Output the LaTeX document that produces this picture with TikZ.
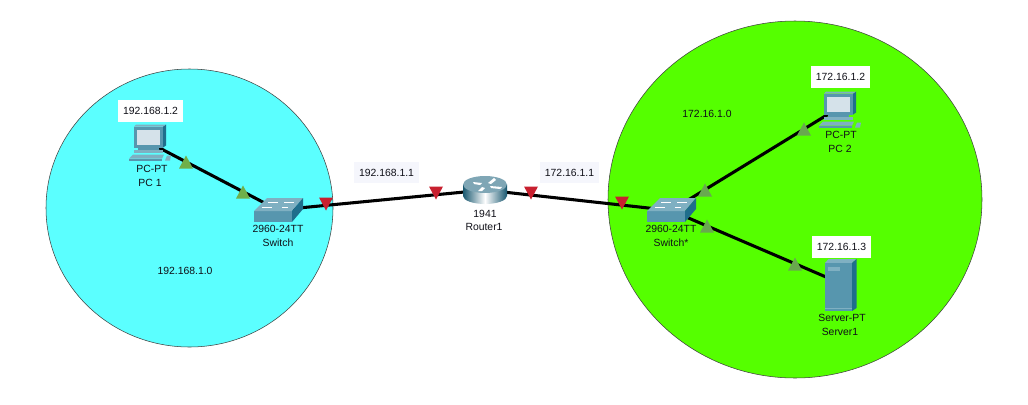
\documentclass[tikz,border=0pt]{standalone}
\usepackage{fontspec}
\setmainfont{Liberation Sans}
\definecolor{cyanzone}{HTML}{5BFFFF}
\definecolor{greenzone}{HTML}{55FF00}
\definecolor{linkred}{HTML}{C8202F}
\definecolor{linkgreen}{HTML}{6FB04A}
\definecolor{linkolive}{HTML}{69A84F}
\definecolor{tealfront}{HTML}{5796AE}
\definecolor{tealtop}{HTML}{7FB0C2}
\definecolor{tealside}{HTML}{1F6E8C}
\definecolor{screen}{HTML}{D5E2EA}
\definecolor{labelbg}{HTML}{F5F6FC}
\definecolor{txt}{HTML}{101018}
\tikzset{
  x=0.75pt,y=-0.75pt,
  zone/.style={draw=black!75,line width=0.4pt},
  link/.style={draw=black,line width=2.3pt},
  lbl/.style={font=\fontsize{7.8}{9}\selectfont,text=txt,inner sep=0pt,align=center},
  ipbox/.style={lbl,fill=white,minimum width=48.75pt,minimum height=16.5pt},
  ipboxs/.style={ipbox,minimum width=44.25pt},
  ipsoft/.style={lbl,fill=labelbg,minimum width=48.75pt,minimum height=15.7pt},
  ipsofts/.style={ipsoft,minimum width=44.25pt},
  dev/.style={inner sep=0pt,minimum size=0pt},
  pics/updown/.style n args={2}{code={
    \fill[#1] (-7,#2*6.5) -- (7,#2*6.5) -- (0,-#2*6.5) -- cycle;}},
  pics/pcicon/.style={code={
    % monitor (origin at the monitor centre)
    \fill[tealside] (13,-10) -- (16,-12) -- (16,9) -- (13,11) -- cycle;
    \fill[tealtop] (-16,-10) -- (-14,-12) -- (16,-12) -- (13,-10) -- cycle;
    \fill[tealfront] (-16,-10) rectangle (13,11);
    \fill[screen] (-13,-7) rectangle (10,8);
    % stand
    \fill[tealfront] (-12,11) rectangle (9,13);
    \fill[tealtop] (-16,13) rectangle (13,16);
    % keyboard and mouse
    \fill[tealtop] (-21,22) -- (-17,18) -- (14,18) -- (12,22) -- cycle;
    \fill[tealfront] (-21,22) rectangle (12,24);
    \fill[tealtop] (15,24) -- (17,19) -- (21,19) -- (20,24) -- cycle;
  }},
  pics/switchicon/.style={code={
    \fill[tealfront] (-24,1) rectangle (14,12);
    \fill[tealtop] (-24,1) -- (-11,-12) -- (25,-12) -- (14,1) -- cycle;
    \fill[tealside] (14,1) -- (25,-12) -- (25,-1) -- (14,12) -- cycle;
    \draw[white,line width=0.7pt] (-10,-8) -- (0,-8) (6,-8) -- (16,-8)
      (-16,-3) -- (-6,-3) (4,-3) -- (10,-3);
  }},
  pics/routericon/.style={code={
    \shade[left color=tealside!80!black,right color=tealside!80!black,middle color=white]
      (-22,-5.5) -- (-22,6) arc[start angle=180,end angle=0,x radius=22,y radius=8] -- (22,-5.5) -- cycle;
    \fill[tealtop!80!gray] (0,-5.5) ellipse[x radius=22,y radius=8.5];
    \fill[white] (-12,-8) -- (-3,-7) -- (-5,-5) -- (-11,-6) -- cycle
      (3,-7) -- (9,-12) -- (11,-10) -- (6,-6) -- cycle
      (5,-4) -- (17,-3) -- (15,-1) -- (6,-2) -- cycle
      (-3,-3) -- (-7,1) -- (-3,1) -- (0,-2) -- cycle;
  }},
  pics/servericon/.style={code={
    \fill[tealtop] (-13.5,-24) -- (-10,-28) -- (18,-28) -- (13.5,-24) -- cycle;
    \fill[tealside] (13.5,-24) -- (18,-28) -- (18,21) -- (13.5,24) -- cycle;
    \fill[tealfront] (-13.5,-24) rectangle (13.5,24);
    \fill[tealtop] (-11,-20) rectangle (1,-16);
    \fill[tealtop] (-13.5,21) rectangle (13.5,22);
  }},
}
\begin{document}
\begin{tikzpicture}
\useasboundingbox (0,0) rectangle (1028,404);
\fill[white] (0,0) rectangle (1028,404);
% zones
\draw[zone,fill=cyanzone] (189.5,208) ellipse[x radius=143.5,y radius=139];
\draw[zone,fill=greenzone] (795,199.5) ellipse[x radius=187,y radius=178.5];
% anchors of devices
\node[dev] (pc1) at (150,143) {};
\node[dev] (sw1) at (278,210) {};
\node[dev] (r1) at (485,190) {};
\node[dev] (sw2) at (671,210.5) {};
\node[dev] (pc2) at (840,107) {};
\node[dev] (srv) at (840,283) {};
% connectors
\draw[link] (pc1) -- (sw1);
\draw[link] (sw1) -- (r1);
\draw[link] (r1) -- (sw2);
\draw[link] (sw2) -- (pc2);
\draw[link] (sw2) -- (srv);
% icons
\pic at (150,136.5) {pcicon};
\pic at (840,103.5) {pcicon};
\pic at (sw1) {switchicon};
\pic at (671,210) {switchicon};
\pic at (r1) {routericon};
\pic at (838.5,287) {servericon};
% link-state triangles
\pic at (186,162) {updown={linkgreen}{1}};
\pic at (243,192) {updown={linkgreen}{1}};
\pic at (326,204) {updown={linkred}{-1}};
\pic at (436,193) {updown={linkred}{-1}};
\pic at (531,193) {updown={linkred}{-1}};
\pic at (622,203) {updown={linkred}{-1}};
\pic at (705,190) {updown={linkolive}{1}};
\pic at (804,129) {updown={linkolive}{1}};
\pic at (707,226) {updown={linkolive}{1}};
\pic at (795,264) {updown={linkolive}{1}};
% labels
\node[ipbox] (ip1) at (150.5,111) {192.168.1.2};
\node[lbl] (pc1a) at (152,169) {PC-PT};
\node[lbl] (pc1b) at (150,183) {PC 1};
\node[lbl] (sw1a) at (278,229) {2960-24TT};
\node[lbl] (sw1b) at (278,243) {Switch};
\node[lbl] (net1) at (185,271) {192.168.1.0};
\node[ipsoft] (gw1) at (386.5,172.5) {192.168.1.1};
\node[ipsofts] (gw2) at (569.5,172.5) {172.16.1.1};
\node[lbl] (r1a) at (485,214) {1941};
\node[lbl] (r1b) at (484,227) {Router1};
\node[lbl] (net2) at (707,114) {172.16.1.0};
\node[ipboxs] (ip2) at (840.5,77) {172.16.1.2};
\node[lbl] (pc2a) at (841,135) {PC-PT};
\node[lbl] (pc2b) at (840,149) {PC 2};
\node[lbl] (sw2a) at (671,229) {2960-24TT};
\node[lbl] (sw2b) at (671,243) {Switch*};
\node[ipboxs] (ip3) at (841.5,247) {172.16.1.3};
\node[lbl] (srva) at (842,318) {Server-PT};
\node[lbl] (srvb) at (840,332) {Server1};
\end{tikzpicture}
\end{document}
